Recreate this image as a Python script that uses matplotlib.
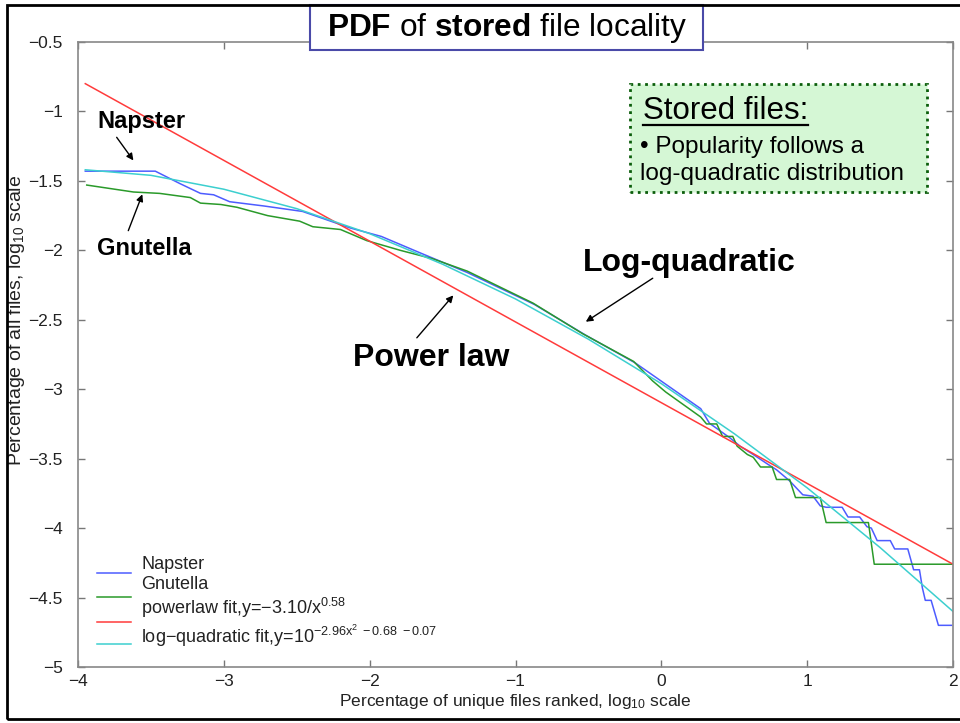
import matplotlib
matplotlib.use('Agg')
import matplotlib.pyplot as plt
from matplotlib.patches import Rectangle
from matplotlib.lines import Line2D

plt.rcParams['font.family'] = ['Liberation Sans', 'DejaVu Sans']
plt.rcParams['mathtext.fontset'] = 'custom'
plt.rcParams['mathtext.rm'] = 'Liberation Sans'
plt.rcParams['mathtext.it'] = 'Liberation Sans:italic'
plt.rcParams['mathtext.bf'] = 'Liberation Sans:bold'
plt.rcParams['mathtext.default'] = 'regular'

# Napster (blue)
nap_x = [-3.95, -3.47, -3.30, -3.16, -3.07, -2.96, -2.73, -2.46, -2.13, -1.92, -1.65,
         -1.33, -0.87, -0.52, -0.18, 0.27, 0.33, 0.47, 0.54, 0.63, 0.73, 0.79, 0.88,
         0.97, 1.04, 1.09, 1.13, 1.24, 1.28, 1.36, 1.41, 1.44, 1.48, 1.57, 1.60, 1.69,
         1.73, 1.77, 1.79, 1.81, 1.85, 1.90, 1.99]
nap_y = [-1.43, -1.43, -1.52, -1.59, -1.60, -1.65, -1.68, -1.72, -1.84, -1.90, -2.02,
         -2.16, -2.39, -2.61, -2.81, -3.14, -3.245, -3.35, -3.41, -3.47, -3.54, -3.58, -3.66,
         -3.76, -3.77, -3.84, -3.85, -3.85, -3.92, -3.92, -3.99, -4.00, -4.09, -4.09, -4.15, -4.15,
         -4.30, -4.30, -4.43, -4.52, -4.52, -4.70, -4.70]

# Gnutella (green)
gnu_x = [-3.94, -3.62, -3.44, -3.23, -3.16, -3.02, -2.91, -2.70, -2.48, -2.39, -2.20,
         -2.02, -1.79, -1.57, -1.33, -0.88, -0.54, -0.19, -0.06, 0.03, 0.27, 0.31, 0.38,
         0.42, 0.49, 0.52, 0.59, 0.63, 0.68, 0.76, 0.79, 0.88, 0.92, 1.09, 1.13, 1.42,
         1.46, 2.00]
gnu_y = [-1.53, -1.58, -1.59, -1.62, -1.66, -1.67, -1.69, -1.75, -1.79, -1.83, -1.85,
         -1.93, -2.00, -2.06, -2.15, -2.38, -2.60, -2.80, -2.94, -3.02, -3.20, -3.25, -3.25,
         -3.34, -3.34, -3.41, -3.47, -3.49, -3.56, -3.56, -3.65, -3.65, -3.78, -3.78, -3.96, -3.96,
         -4.26, -4.26]

# power law fit (red), straight line
pow_x = [-3.95, 2.00]
pow_y = [-0.80, -4.26]

# log-quadratic fit (cyan)
lq_x = [-3.95, -3.5, -3.0, -2.5, -2.0, -1.5, -1.0, -0.5, 0.0, 0.5, 1.0, 1.5, 2.0]
lq_y = [-1.42, -1.46, -1.56, -1.70, -1.88, -2.10, -2.35, -2.64, -2.96, -3.32, -3.71, -4.14, -4.60]

labels = ['Napster', 'Gnutella',
          r'powerlaw fit,y=−3.10/x$^{0.58}$',
          r'log−quadratic fit,y=10$^{−2.96x^{2}\ −0.68\ −0.07}$']

xticks = [-4, -3, -2, -1, 0, 1, 2]
yticks = [-5, -4.5, -4, -3.5, -3, -2.5, -2, -1.5, -1, -0.5]
ytick_labels = ['−5', '−4.5', '−4', '−3.5', '−3', '−2.5', '−2', '−1.5', '−1', '−0.5']
xtick_labels = ['−4', '−3', '−2', '−1', '0', '1', '2']

fig = plt.figure(figsize=(9.6, 7.23), dpi=100)
ax = fig.add_axes([78 / 960, 56 / 723, 875 / 960, 625 / 723])

l1, = ax.plot(nap_x, nap_y, color='#4d5cff', lw=1.1)
l2, = ax.plot(gnu_x, gnu_y, color='#2a9a2a', lw=1.1)
l3, = ax.plot(pow_x, pow_y, color='#ff3b3b', lw=1.1)
l4, = ax.plot(lq_x, lq_y, color='#3ccfcf', lw=1.1)

ax.set_xlim(-4, 2)
ax.set_ylim(-5, -0.5)
ax.set_xticks(xticks)
ax.set_xticklabels(xtick_labels)
ax.set_yticks(yticks)
ax.set_yticklabels(ytick_labels)
ax.tick_params(direction='in', length=5, width=1, color='#777777', labelcolor='#222222',
               labelsize=12.5, top=True, right=True)
ax.tick_params(axis='y', pad=11)
ax.tick_params(axis='x', pad=5)
for s in ax.spines.values():
    s.set_color('#888888')
    s.set_linewidth(1.2)

ax.set_xlabel(r'Percentage of unique files ranked, log$_{10}$ scale', fontsize=12.5,
              color='#222222', labelpad=0)
ax.xaxis.set_label_coords(0.5, -0.04)
ax.set_ylabel(r'Percentage of all files, log$_{10}$ scale', fontsize=14, color='#222222')
ax.yaxis.set_label_coords(-0.058, 0.555)

leg = ax.legend([l1, l2, l3, l4], labels, loc='lower left', bbox_to_anchor=(0.022, 0.007),
                frameon=False, fontsize=13, handlelength=1.85, handletextpad=0.6,
                labelspacing=0.15, borderpad=0, borderaxespad=0)
for t in leg.get_texts():
    t.set_y(14)
    t.set_color('#222222')
# the handle lines sit evenly spaced, independent of the label heights
for h, dy in zip(leg.legend_handles, [3.1, -0.7, -0.7, 4.3]):
    h.set_ydata([v + dy for v in h.get_ydata()])

# annotations
arrow = dict(arrowstyle='-|>', color='black', lw=1, mutation_scale=10)
ax.text(-3.87, -1.07, 'Napster', fontsize=17, fontweight='bold', va='center', ha='left')
ax.annotate('', xy=(-3.609, -1.369), xytext=(-3.746, -1.170), arrowprops=arrow)
ax.text(-3.87, -1.99, 'Gnutella', fontsize=17, fontweight='bold', va='center', ha='left')
ax.annotate('', xy=(-3.552, -1.578), xytext=(-3.662, -1.877), arrowprops=arrow)
ax.text(-0.536, -2.09, 'Log-quadratic', fontsize=23, fontweight='bold', va='center', ha='left')
ax.annotate('', xy=(-0.534, -2.525), xytext=(-0.043, -2.19), arrowprops=arrow)
ax.text(-2.114, -2.775, 'Power law', fontsize=23, fontweight='bold', va='center', ha='left')
ax.annotate('', xy=(-1.414, -2.309), xytext=(-1.689, -2.645), arrowprops=arrow)

# green note box
fig.patches.append(Rectangle((630 / 960, 1 - 192 / 723), 297 / 960, 108 / 723,
                             transform=fig.transFigure, facecolor='#d5f7d5',
                             edgecolor='#0b5e0b', lw=2, ls=':', zorder=5))
head = fig.text(643 / 960, 1 - 119 / 723, 'Stored files:', fontsize=22.5,
                va='baseline', ha='left', zorder=6)
fig.text(640 / 960, 1 - 153 / 723, '• Popularity follows a', fontsize=17.5,
         va='baseline', ha='left', zorder=6)
fig.text(640 / 960, 1 - 180 / 723, 'log-quadratic distribution', fontsize=17.5,
         va='baseline', ha='left', zorder=6)

# underline of the heading, from its rendered width
fig.canvas.draw()
bb = head.get_window_extent()
fig.lines.append(Line2D([bb.x0 / 960, bb.x1 / 960], [1 - 125 / 723, 1 - 125 / 723],
                        transform=fig.transFigure, color='black', lw=1.6, zorder=6))

# title box
fig.patches.append(Rectangle((310 / 960, 1 - 50 / 723), 393 / 960, 45 / 723,
                             transform=fig.transFigure, facecolor='white',
                             edgecolor='#4a4aa8', lw=1.5, zorder=5))
fig.text(507 / 960, 1 - 28 / 723, r'$\mathbf{PDF}$ of $\mathbf{stored}$ file locality',
         fontsize=22.8, va='center', ha='center', zorder=6)

# outer frame
fig.patches.append(Rectangle((7 / 960, 4 / 723), 1.0, 1 - 9 / 723,
                             transform=fig.transFigure, facecolor='none',
                             edgecolor='black', lw=2, zorder=7))

fig.savefig('out.png', dpi=100)
